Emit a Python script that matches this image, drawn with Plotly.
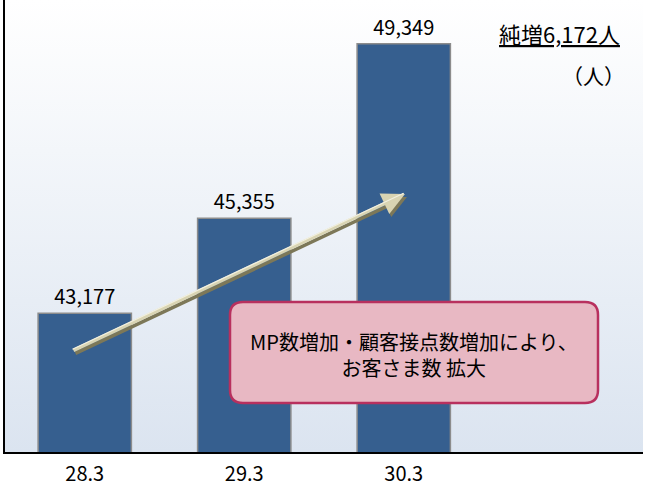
import base64
import plotly.graph_objects as go

# data
periods = ["28.3", "29.3", "30.3"]
members = [43177, 45355, 49349]
callout_lines = ["MP数増加・顧客接点数増加により、", "お客さま数 拡大"]
unit_label = "（人）"

net_increase = members[-1] - members[0]

W, H = 645, 491
L, R, T, B = 5, 2, 0, 39
PW, PH = W - L - R, H - T - B
FONT = "Noto Sans CJK JP"


def px(x, y):
    # pixel position -> paper coordinates
    return (x - L) / PW, (H - B - y) / PH


def rounded_rect(x0, y0, x1, y1, r):
    def p(x, y):
        a, b = px(x, y)
        return f"{a:.5f},{b:.5f}"
    path = f"M{p(x0 + r, y0)} L{p(x1 - r, y0)} Q{p(x1, y0)} {p(x1, y0 + r)} "
    path += f"L{p(x1, y1 - r)} Q{p(x1, y1)} {p(x1 - r, y1)} "
    path += f"L{p(x0 + r, y1)} Q{p(x0, y1)} {p(x0, y1 - r)} "
    path += f"L{p(x0, y0 + r)} Q{p(x0, y0)} {p(x0 + r, y0)} Z"
    return path


# vertical gradient for the plot background
svg = ('<svg xmlns="http://www.w3.org/2000/svg" width="100" height="100" preserveAspectRatio="none">'
       '<defs><linearGradient id="g" x1="0" y1="0" x2="0" y2="1">'
       '<stop offset="0" stop-color="#ffffff"/><stop offset="1" stop-color="#dbe4f0"/>'
       '</linearGradient></defs><rect width="100" height="100" fill="url(#g)"/></svg>')
bg_src = "data:image/svg+xml;base64," + base64.b64encode(svg.encode()).decode()

fig = go.Figure()

fig.add_trace(go.Bar(
    x=list(range(len(periods))), y=members, width=0.585,
    marker=dict(color="#365f8f", line=dict(color="#8c8c8c", width=1.5)),
    text=[f"{v:,}" for v in members], textposition="outside",
    textfont=dict(size=20, color="#000000", family=FONT),
    cliponaxis=False, showlegend=False,
))

# arrow: shadow, body, highlight
hx, hy = 405, 194
tx, ty = 72, 351
for dx, dy, col, w, hs in [(2, 3, "#7d7858", 3.5, 1.3), (0, 0, "#d9d4b2", 3.5, 1.3), (-1, -1, "#f2f0e0", 1.2, 0.3)]:
    a = px(hx + dx, hy + dy)
    fig.add_annotation(
        x=a[0], y=a[1], xref="paper", yref="paper",
        ax=tx - hx, ay=ty - hy, axref="pixel", ayref="pixel",
        text="", showarrow=True,
        arrowhead=2, arrowsize=hs, arrowwidth=w, arrowcolor=col,
    )

fig.update_layout(
    width=W, height=H,
    margin=dict(l=L, r=R, t=T, b=B),
    paper_bgcolor="#ffffff", plot_bgcolor="#ffffff",
    font=dict(family=FONT, color="#000000"),
    images=[dict(
        source=bg_src, xref="paper", yref="paper", x=0, y=1, sizex=1, sizey=1,
        xanchor="left", yanchor="top", sizing="stretch", layer="below",
    )],
    shapes=[dict(
        type="path", xref="paper", yref="paper",
        path=rounded_rect(230, 302, 598, 403, 13),
        fillcolor="#e8b8c3", line=dict(color="#b8305e", width=2.5),
    )],
)

cx, cy = px(414, 354)
fig.add_annotation(
    x=cx, y=cy, xref="paper", yref="paper", showarrow=False,
    xanchor="center", yanchor="middle",
    text="<br>".join(callout_lines), align="center",
    font=dict(size=20, family=FONT, color="#000000"),
)
ux, uy = px(622, 33)
fig.add_annotation(
    x=ux, y=uy, xref="paper", yref="paper", showarrow=False,
    xanchor="right", yanchor="middle",
    text=f"<u>純増{net_increase:,}人</u>", font=dict(size=22, family=FONT),
)
ux, uy = px(627, 75)
fig.add_annotation(
    x=ux, y=uy, xref="paper", yref="paper", showarrow=False,
    xanchor="right", yanchor="middle",
    text=unit_label, font=dict(size=21, family=FONT),
)

fig.update_xaxes(
    range=[-0.5, 3.5], tickvals=list(range(len(periods))), ticktext=periods,
    showgrid=False, zeroline=False, showline=True, linecolor="#000000", linewidth=2,
    ticks="", ticklabelstandoff=3, tickfont=dict(size=20, family=FONT),
)
fig.update_yaxes(
    range=[40000, 50350], showgrid=False, zeroline=False, showticklabels=False,
    showline=True, linecolor="#000000", linewidth=2, ticks="",
)

fig.write_html("out.html", config={"displayModeBar": False},
               post_script="document.body.style.margin='0';")
